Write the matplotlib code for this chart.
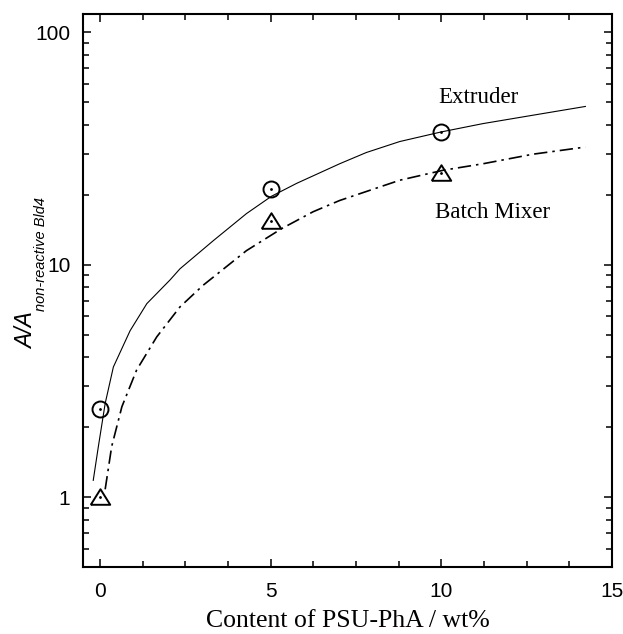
import numpy as np
import matplotlib
matplotlib.use('Agg')
import matplotlib.pyplot as plt
from matplotlib.ticker import FixedLocator, NullFormatter, MultipleLocator

# --- measured points ---
content = [0, 5, 10]
extruder_pts = [2.4, 21.1, 37.1]
mixer_pts = [1.0, 15.5, 24.7]

# fitted curves
extruder_curve_x = [-0.2, -0.05, 0.15, 0.39, 0.88, 1.37, 2.05, 2.34, 3.32, 4.29,
                    5.02, 5.76, 7.02, 7.80, 8.78, 10.0, 11.22, 12.68, 14.22]
extruder_curve_y = [1.18, 1.65, 2.53, 3.63, 5.2, 6.8, 8.6, 9.6, 12.7, 16.6,
                    19.7, 22.4, 27.2, 30.4, 33.9, 37.3, 40.5, 44.0, 48.0]
mixer_curve_x = [0.15, 0.34, 0.64, 1.07, 1.66, 2.34, 3.02, 4.29, 5.32, 6.24,
                 7.02, 8.19, 8.78, 10.05, 11.22, 12.68, 14.22]
mixer_curve_y = [1.08, 1.65, 2.45, 3.52, 4.89, 6.58, 8.16, 11.5, 14.3, 16.9,
                 18.9, 21.6, 23.1, 25.5, 27.2, 29.9, 32.1]

tick_font = ['Liberation Sans Narrow', 'DejaVu Sans Condensed', 'Liberation Sans']
serif_font = ['Liberation Serif', 'DejaVu Serif']
sans_font = ['Liberation Sans', 'DejaVu Sans']

W, H = 623, 634
fig = plt.figure(figsize=(W / 100, H / 100), dpi=100)
ax = fig.add_axes([83 / W, (H - 567) / H, (612 - 83) / W, (567 - 14) / H])

ax.plot(extruder_curve_x, extruder_curve_y, color='black', lw=0.8)
ax.plot(mixer_curve_x, mixer_curve_y, color='black', lw=1.2,
        dashes=(8, 3, 1.5, 3))

tri = [(-1, -0.75), (1, -0.75), (0, 0.85), (-1, -0.75)]
ax.plot(content, extruder_pts, 'o', ms=11.5, mfc='none', mec='black', mew=1.4)
ax.plot(content, mixer_pts, linestyle='none', marker=tri, ms=14,
        mfc='none', mec='black', mew=1.4)
ax.plot(content, extruder_pts, '.', ms=2, color='black')
ax.plot(content, mixer_pts, '.', ms=2, color='black')

ax.set_yscale('log')
ax.set_xlim(-0.5, 15)
ax.set_ylim(0.5, 120)

ax.xaxis.set_major_locator(FixedLocator([0, 5, 10, 15]))
ax.xaxis.set_minor_locator(MultipleLocator(1.25))
ax.yaxis.set_major_locator(FixedLocator([1, 10, 100]))
minors = [m * 10.0 ** e for e in (-1, 0, 1) for m in range(2, 10)]
ax.yaxis.set_minor_locator(FixedLocator(minors))
ax.yaxis.set_minor_formatter(NullFormatter())
ax.set_yticklabels(['1', '10', '100'])
ax.set_xticklabels(['0', '5', '10', '15'])

ax.tick_params(which='both', direction='in', top=True, right=True, width=1.1)
ax.tick_params(which='major', length=6)
ax.tick_params(which='minor', length=4)
ax.tick_params(axis='y', which='major', pad=9)
ax.tick_params(axis='x', which='major', pad=11)
for lab in ax.get_xticklabels() + ax.get_yticklabels():
    lab.set_family(tick_font)
    lab.set_fontsize(15)
for sp in ax.spines.values():
    sp.set_linewidth(1.5)

ax.set_xlabel('Content of PSU-PhA / wt%', family=serif_font, fontsize=18.5,
              labelpad=6)

# y label: "A/A" with a smaller subscript, drawn as two rotated texts
fig.text(33 / W, 1 - 349 / H, 'A/A', rotation=90, rotation_mode='anchor',
         ha='left', va='baseline', fontsize=16.5, style='italic',
         family=sans_font)
fig.text(45 / W, 1 - 311 / H, 'non-reactive Bld4', rotation=90,
         rotation_mode='anchor', ha='left', va='baseline', fontsize=10.5,
         style='italic', family=sans_font)

fig.text(438 / W, 1 - 103 / H, 'Extruder', ha='left', va='baseline',
         family=serif_font, fontsize=16.5)
fig.text(435 / W, 1 - 218 / H, 'Batch Mixer', ha='left', va='baseline',
         family=serif_font, fontsize=16.5)

fig.savefig('out.png', dpi=100)
